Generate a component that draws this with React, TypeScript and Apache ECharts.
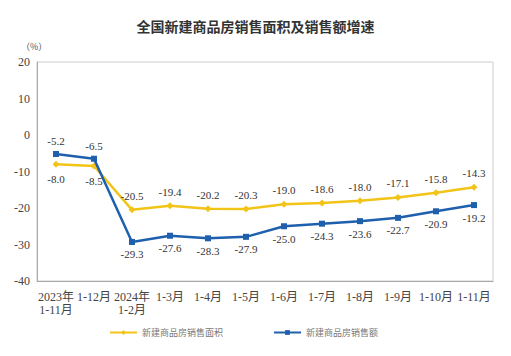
import React, { useEffect, useRef } from "react";
import * as echarts from "echarts";

const categories = [
  "2023年\n1-11月", "1-12月", "2024年\n1-2月", "1-3月", "1-4月", "1-5月",
  "1-6月", "1-7月", "1-8月", "1-9月", "1-10月", "1-11月",
];
const areaGrowth = [-8.0, -8.5, -20.5, -19.4, -20.2, -20.3, -19.0, -18.6, -18.0, -17.1, -15.8, -14.3];
const salesGrowth = [-5.2, -6.5, -29.3, -27.6, -28.3, -27.9, -25.0, -24.3, -23.6, -22.7, -20.9, -19.2];
const yTicks = [-40, -30, -20, -10, 0, 10, 20];
const seriesNames = ["新建商品房销售面积", "新建商品房销售额"];

const SERIF = "'Liberation Serif', 'Noto Sans CJK SC', serif";

export default function App() {
  const ref = useRef<HTMLDivElement>(null);
  useEffect(() => {
    if (!ref.current) return;
    const chart = echarts.init(ref.current, undefined, { renderer: "svg" });
    const yellow = "#F2C418";
    const blue = "#1E5FAE";
    const labelStyle = {
      show: true,
      fontFamily: SERIF,
      fontSize: 11,
      color: "#333",
      formatter: (p: any) => Number(p.value).toFixed(1),
    };
    chart.setOption({
      animation: false,
      title: {
        text: "全国新建商品房销售面积及销售额增速",
        left: "center",
        top: 14,
        textStyle: { fontSize: 14, fontWeight: "bold", color: "#333", fontFamily: "'Noto Sans CJK SC', sans-serif" },
      },
      graphic: [
        { type: "text", left: 21, top: 42, style: { text: "（%）", fontSize: 9, fill: "#555", fontFamily: "'Noto Sans CJK SC'" } },
      ],
      legend: {
        bottom: 14,
        left: 104,
        itemWidth: 27,
        itemHeight: 6,
        itemGap: 50,
        textStyle: { fontSize: 9, color: "#777", fontFamily: "'Noto Sans CJK SC'" },
        data: seriesNames,
      },
      grid: {
        left: 37, right: 18, top: 62, bottom: 75,
        show: true, borderColor: "#ccc", borderWidth: 1,
      },
      xAxis: {
        type: "category",
        data: categories,
        boundaryGap: true,
        axisLine: { onZero: false, lineStyle: { color: "#aaa" } },
        axisTick: { inside: true, length: 4, lineStyle: { color: "#aaa" } },
        axisLabel: { fontFamily: SERIF, fontSize: 12, color: "#444", margin: 9, lineHeight: 13, interval: 0 },
      },
      yAxis: {
        type: "value",
        min: yTicks[0],
        max: yTicks[yTicks.length - 1],
        interval: 10,
        splitLine: { show: false },
        axisLine: { show: true, onZero: false, lineStyle: { color: "#aaa" } },
        axisTick: { show: false },
        axisLabel: { fontFamily: SERIF, fontSize: 12, color: "#444", margin: 7 },
      },
      series: [
        {
          name: seriesNames[0],
          type: "line",
          data: areaGrowth.map((v, i) => ({ value: v, label: { position: i < 2 ? "bottom" : "top", distance: i < 2 ? 6 : 5 } })),
          color: yellow,
          lineStyle: { width: 2.5, color: yellow },
          symbol: "diamond",
          symbolSize: 7,
          itemStyle: { color: yellow },
          label: labelStyle,
          z: 2,
        },
        {
          name: seriesNames[1],
          type: "line",
          data: salesGrowth.map((v, i) => ({ value: v, label: { position: i < 2 ? "top" : "bottom", distance: 4 } })),
          color: blue,
          lineStyle: { width: 2.5, color: blue },
          symbol: "rect",
          symbolSize: 6,
          itemStyle: { color: blue },
          label: labelStyle,
          z: 3,
        },
      ],
    });
    return () => chart.dispose();
  }, []);
  return <div ref={ref} style={{ width: 511, height: 356, position: "absolute", left: 0, top: 0, background: "#fff" }} />;
}
